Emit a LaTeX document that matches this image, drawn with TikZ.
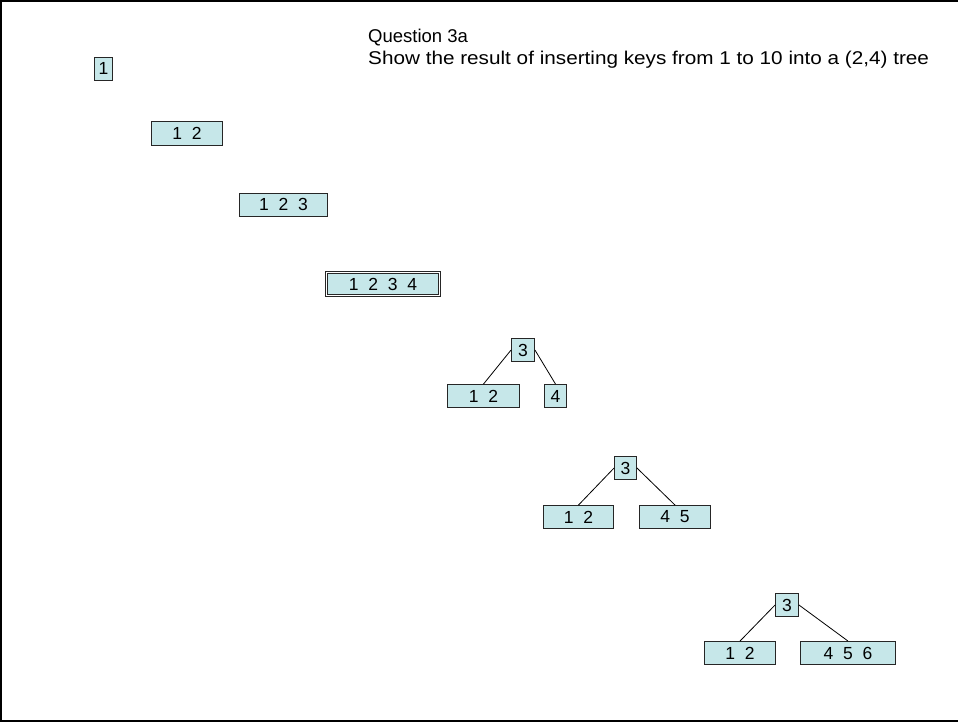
\documentclass[tikz,border=0pt]{standalone}
\usepackage{fontspec}
\setmainfont{Liberation Sans}
\newfontfamily\widesans[FakeStretch=1.12]{Liberation Sans}
\usetikzlibrary{positioning}
\definecolor{KeyFill}{HTML}{C6E7E9}
\definecolor{KeyRule}{HTML}{262626}

\begin{document}
\begin{tikzpicture}[x=1pt,y=-1pt,
  keybox/.style={draw=KeyRule,fill=KeyFill,line width=0.9pt,minimum height=23pt,inner sep=0pt,font=\fontsize{17.5}{20}\selectfont},
  fullbox/.style={keybox,double=white,double distance=1.4pt,line width=0.7pt},
  link/.style={draw=black,line width=0.8pt}
]
\useasboundingbox (0,0) rectangle (958,723);
\draw[line width=2pt] (958,1) -- (1,1) -- (1,721) -- (958,721);

\node[anchor=north west,inner sep=0pt,align=left,font=\fontsize{18.5}{21.5}\selectfont] (title) at (368,29)
  {Question 3a\\{\widesans Show the result of inserting keys from 1 to 10 into a (2,4) tree}};

% inserting 1 to 4
\node[keybox,minimum width=18pt] (k1) at (103.5,68.5) {1};
\node[keybox,minimum width=71pt,minimum height=24pt] (k12) at (187,133.5) {1~~2};
\node[keybox,minimum width=88pt] (k123) at (283.5,204.5) {1~~2~~3};
\node[fullbox,minimum width=113pt,minimum height=23pt] (k1234) at (383,284) {1~~2~~3~~4};

% split after 5th key
\node[keybox,minimum width=23pt] (ra) at (523,350) {3};
\node[keybox,minimum width=72pt] (la) at (483.5,396) {1~~2};
\node[keybox,minimum width=22pt] (rta) at (555.5,396) {4};
\draw[link] (ra.west) -- (la.north);
\draw[link] (ra.east) -- (rta.north);

% insert 5
\node[keybox,minimum width=22pt] (rb) at (625.5,468) {3};
\node[keybox,minimum width=70pt] (lb) at (578.5,517) {1~~2};
\node[keybox,minimum width=71pt] (rtb) at (675,517) {4~~5};
\draw[link] (rb.west) -- (lb.north);
\draw[link] (rb.east) -- (rtb.north);

% insert 6
\node[keybox,minimum width=23pt] (rc) at (787,605) {3};
\node[keybox,minimum width=71pt] (lc) at (740,653) {1~~2};
\node[keybox,minimum width=95pt] (rtc) at (848,653) {4~~5~~6};
\draw[link] (rc.west) -- (lc.north);
\draw[link] (rc.east) -- (rtc.north);
\end{tikzpicture}
\end{document}
